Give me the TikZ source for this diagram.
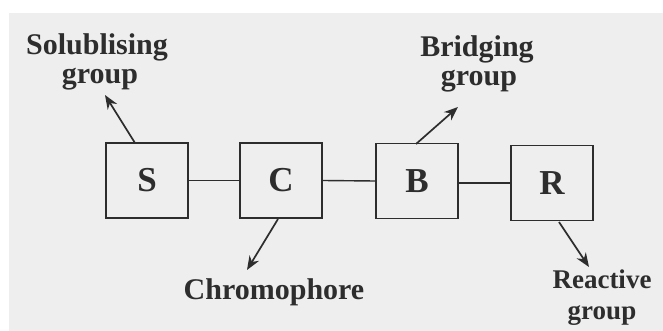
\documentclass[tikz,border=0pt]{standalone}
\usepackage{fontspec}
\setmainfont{Liberation Serif}
\usetikzlibrary{arrows.meta}
\definecolor{paper}{RGB}{238,238,238}
\definecolor{ink}{RGB}{45,45,45}
\begin{document}
\begin{tikzpicture}[x=1pt,y=-1pt,
  unit/.style={draw=ink,line width=1.6pt,minimum width=82pt,minimum height=75pt,
    inner sep=0pt,text=ink,font=\bfseries\fontsize{35}{35}\selectfont},
  tag/.style={text=ink,font=\bfseries\fontsize{30}{29}\selectfont,align=center,inner sep=0pt},
  link/.style={draw=ink,line width=1.4pt},
  pointer/.style={draw=ink,line width=1.7pt,-{Stealth[length=14pt,width=11pt]}}]
\useasboundingbox (0,0) rectangle (663,331);
\fill[white] (0,0) rectangle (663,331);
\fill[paper] (9,13) rectangle (663,331);

% the four groups of the dye molecule
\node[unit] (S) at (147,180.5) {S};
\node[unit] (C) at (281,180.5) {C};
\node[unit] (B) at (417,181) {B};
\node[unit] (R) at (552,183) {R};

\draw[link] (S.east) -- (C.west);
\draw[link] (C.east) -- (B.west);
\draw[link] ([yshift=-2pt]B.east) -- ([yshift=-2pt]B.east -| R.west);

% labels
\node[tag] (sol) at (97,47) {Solublising};
\node[tag] (solg) at (100,79) {group};
\node[tag] (bri) at (477,49) {Bridging};
\node[tag] (brig) at (479,81) {group};
\node[tag] (chr) at (274,292) {Chromophore};
\node[tag,anchor=north,font=\bfseries\fontsize{27}{31}\selectfont] (rea) at (602,270) {Reactive\\group};

% pointers from each group to its label
\coordinate (sA) at (135,143);
\coordinate (sT) at (105,95);
\coordinate (bA) at (416,144);
\coordinate (bT) at (458,107);
\coordinate (cA) at (278,219);
\coordinate (cT) at (247,270);
\coordinate (rA) at (559,222);
\coordinate (rT) at (589,267);
\draw[pointer] (sA) -- (sT);
\draw[pointer] (bA) -- (bT);
\draw[pointer] (cA) -- (cT);
\draw[pointer] (rA) -- (rT);
\end{tikzpicture}
\end{document}
